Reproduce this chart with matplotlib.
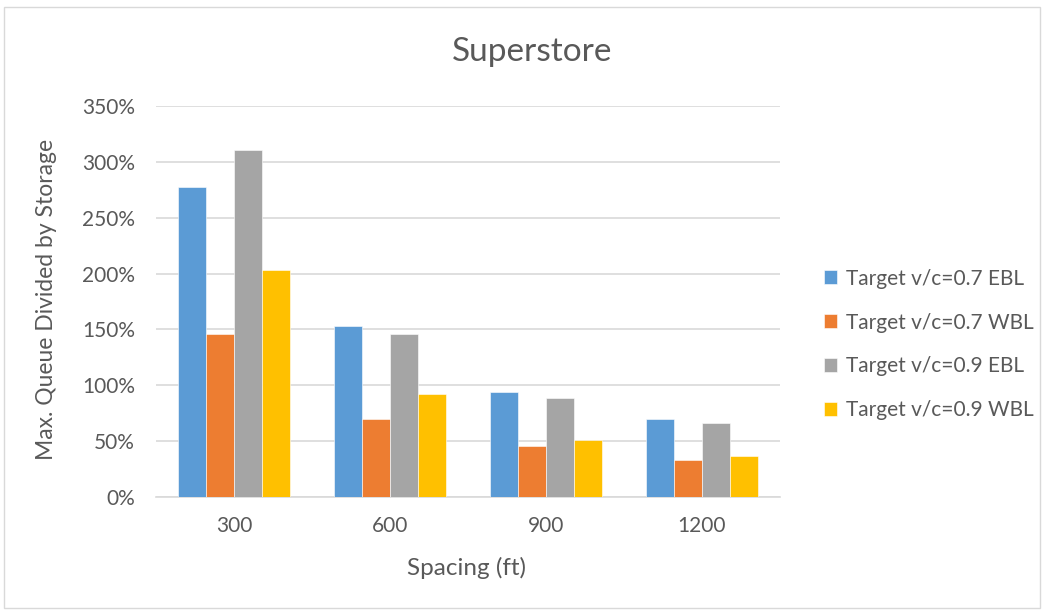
import numpy as np
import matplotlib
matplotlib.use("Agg")
import matplotlib.pyplot as plt
from matplotlib.patches import Rectangle
from matplotlib.ticker import FuncFormatter

plt.rcParams['font.family'] = ['Lato', 'DejaVu Sans']

spacing = ['300', '600', '900', '1200']
series = ['Target v/c=0.7 EBL', 'Target v/c=0.7 WBL',
          'Target v/c=0.9 EBL', 'Target v/c=0.9 WBL']
ebl_07 = [277.5, 152.7, 93.8, 69.9]
wbl_07 = [145.7, 69.9, 46.0, 32.9]
ebl_09 = [310.7, 145.7, 88.8, 66.6]
wbl_09 = [203.5, 91.8, 50.8, 37.0]
colors = ['#5B9BD5', '#ED7D31', '#A5A5A5', '#FFC000']

text_col = '#595959'
grid_col = '#D9D9D9'

fig = plt.figure(figsize=(10.42, 6.10), dpi=100)
fig.patches.append(Rectangle((4 / 1042, 2 / 610), 1036 / 1042, 601 / 610,
                             transform=fig.transFigure, fill=False,
                             edgecolor=grid_col, linewidth=1))
ax = fig.add_axes([156 / 1042, 1 - 497 / 610, 624 / 1042, 391 / 610])

x = np.arange(len(spacing))
w = 0.181
for i, (vals, name) in enumerate(zip([ebl_07, wbl_07, ebl_09, wbl_09], series)):
    ax.bar(x + (i - 1.5) * w, vals, w, color=colors[i], label=name,
           edgecolor='white', linewidth=0.4, zorder=3)

ax.set_xlim(-0.5, 3.5)
ax.set_ylim(0, 350)
ax.set_yticks(np.arange(0, 351, 50))
ax.yaxis.set_major_formatter(FuncFormatter(lambda v, p: '%d%%' % v))
ax.set_xticks(x)
ax.set_xticklabels(spacing)
ax.grid(axis='y', color=grid_col, linewidth=1.2, zorder=0)
for s in ['top', 'right', 'left']:
    ax.spines[s].set_visible(False)
ax.spines['bottom'].set_color(grid_col)
ax.spines['bottom'].set_linewidth(1.2)
ax.tick_params(axis='both', length=0, labelsize=15, colors=text_col)
ax.tick_params(axis='y', pad=15)
ax.tick_params(axis='x', pad=14)

ax.set_xlabel('Spacing (ft)', fontsize=17.5, color=text_col, va='center')
ax.xaxis.set_label_coords(0.498, -0.182)
ax.set_ylabel('Max. Queue Divided by Storage', fontsize=16.5, color=text_col, va='center')
ax.yaxis.set_label_coords(-0.175, 0.504)
fig.text(532 / 1042, 1 - 52 / 610, 'Superstore', fontsize=24, color=text_col,
         ha='center', va='center')

leg = ax.legend(loc='center left', bbox_to_anchor=(1.04, 0.39), frameon=False,
                fontsize=15, labelspacing=1.15, handlelength=0.65,
                handleheight=0.65, handletextpad=0.4)
for t in leg.get_texts():
    t.set_color(text_col)

fig.savefig('out.png', dpi=100)
